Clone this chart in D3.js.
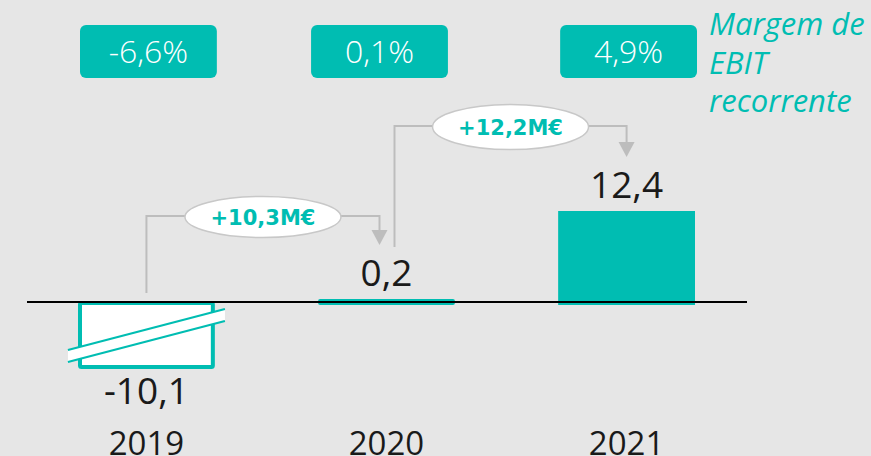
<!DOCTYPE html>
<html><head><meta charset="utf-8">
<script src="https://cdn.jsdelivr.net/npm/d3@7/dist/d3.min.js"></script>
<style>html,body{margin:0;padding:0;background:#e6e6e6;overflow:hidden}</style>
</head><body>
<svg id="c" width="871" height="456"></svg>
<script>
const years = ["2019", "2020", "2021"];
const ebit = [-10.1, 0.2, 12.4];
const valueLabels = ["-10,1", "0,2", "12,4"];
const margins = ["-6,6%", "0,1%", "4,9%"];
const deltas = ["+10,3M€", "+12,2M€"];
const legendLines = ["Margem de", "EBIT", "recorrente"];

const TEAL = "#00bdb2", GREY = "#bdbdbd", INK = "#1a1a1a";
const svg = d3.select("#c");
svg.append("rect").attr("width", 871).attr("height", 456).attr("fill", "#e6e6e6");

const x = d3.scaleBand().domain(years).range([78, 695]).paddingInner(0.43).paddingOuter(0);
// broken axis: negative part drawn truncated
const y = d3.scaleLinear().domain([-10.1, 0, 12.4]).range([369, 302, 211]);
const bw = x.bandwidth();
const cx = d => x(d) + bw / 2;

// margin boxes
const mg = svg.append("g");
years.forEach((yr, i) => {
  const off = i === 1 ? -7 : 2;
  mg.append("rect").attr("x", x(yr) + off).attr("y", 25).attr("width", bw).attr("height", 53)
    .attr("rx", 6).attr("fill", TEAL);
  mg.append("text").attr("x", cx(yr) + off).attr("y", 63).attr("text-anchor", "middle")
    .attr("font-family", "Open Sans").attr("font-weight", 300).attr("font-size", 32).attr("fill", "#fff")
    .text(margins[i]);
});

// legend
legendLines.forEach((t, i) => {
  svg.append("text").attr("x", 709).attr("y", 35 + i * 38.5)
    .attr("font-family", "Open Sans").attr("font-style", "italic").attr("font-size", 31).attr("fill", TEAL)
    .text(t);
});

// bars
years.forEach((yr, i) => {
  const v = ebit[i];
  if (v < 0) {
    svg.append("rect").attr("x", x(yr) + 2).attr("y", y(0) + 1).attr("width", bw - 4).attr("height", y(v) - y(0) - 3)
      .attr("rx", 1.5).attr("fill", "#fff").attr("stroke", TEAL).attr("stroke-width", 4);
    // break symbol
    const mx = cx(yr), my = (y(0) + y(v)) / 2, hw = 78.5, dy = 20.5, th = 6;
    const band = svg.append("g");
    band.append("path").attr("d", `M${mx - hw},${my + dy - th}L${mx + hw},${my - dy - th}L${mx + hw},${my - dy + th}L${mx - hw},${my + dy + th}Z`)
      .attr("fill", "#fff");
    band.append("line").attr("x1", mx - hw).attr("y1", my + dy - th).attr("x2", mx + hw).attr("y2", my - dy - th)
      .attr("stroke", TEAL).attr("stroke-width", 2.2);
    band.append("line").attr("x1", mx - hw).attr("y1", my + dy + th).attr("x2", mx + hw).attr("y2", my - dy + th)
      .attr("stroke", TEAL).attr("stroke-width", 2.2);
  } else {
    const top = Math.min(y(v), y(0) - 3);
    svg.append("rect").attr("x", x(yr)).attr("y", top).attr("width", bw).attr("height", y(0) + 3 - top)
      .attr("rx", v < 1 ? 2 : 0).attr("fill", TEAL);
  }
});
// axis drawn over bars
svg.append("line").attr("x1", 27).attr("x2", 747).attr("y1", y(0)).attr("y2", y(0))
  .attr("stroke", "#000").attr("stroke-width", 2);

// value labels
years.forEach((yr, i) => {
  const v = ebit[i];
  const yy = v < 0 ? y(v) + 35 : Math.min(y(v), y(0) - 3) - 13;
  svg.append("text").attr("x", cx(yr)).attr("y", yy).attr("text-anchor", "middle")
    .attr("font-family", "Open Sans").attr("font-size", 37).attr("fill", INK).text(valueLabels[i]);
});

// year labels
years.forEach(yr => {
  svg.append("text").attr("x", cx(yr)).attr("y", 455).attr("text-anchor", "middle")
    .attr("font-family", "Open Sans").attr("font-size", 33).attr("fill", INK).text(yr);
});

// connectors
const conns = [
  {x0: cx(years[0]), y0: 293, x1: cx(years[1]) - 7, y1: 245, lvl: 216},
  {x0: cx(years[1]) + 8, y0: 247, x1: cx(years[2]), y1: 157, lvl: 126}
];
conns.forEach((c, i) => {
  const g = svg.append("g");
  g.append("path").attr("d", `M${c.x0},${c.y0}V${c.lvl}H${c.x1}V${c.y1 - 12}`)
    .attr("fill", "none").attr("stroke", GREY).attr("stroke-width", 2);
  g.append("path").attr("d", `M${c.x1 - 8},${c.y1 - 15}L${c.x1 + 8},${c.y1 - 15}L${c.x1},${c.y1}Z`).attr("fill", GREY);
  const ex = (c.x0 + c.x1) / 2;
  g.append("ellipse").attr("cx", ex).attr("cy", c.lvl + 1).attr("rx", 78).attr("ry", i === 0 ? 20.5 : 22.5)
    .attr("fill", "#fff").attr("stroke", "#c8c8c8").attr("stroke-width", 1.5);
  g.append("text").attr("x", ex).attr("y", c.lvl + 9).attr("text-anchor", "middle")
    .attr("font-family", "DejaVu Sans").attr("font-weight", "bold").attr("font-size", 21).attr("fill", TEAL)
    .text(deltas[i]);
});
</script>
</body></html>
